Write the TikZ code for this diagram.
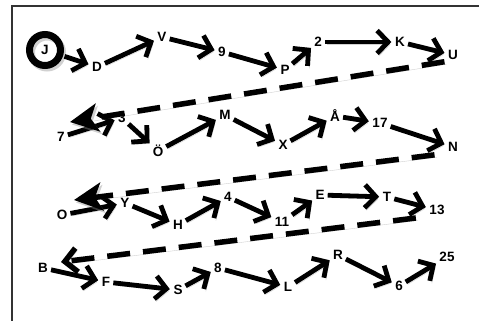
\documentclass[tikz,border=0pt]{standalone}
\usepackage{fontspec}
\setmainfont{Liberation Sans}
\usetikzlibrary{arrows.meta,calc}
\begin{document}
\begin{tikzpicture}[x=1pt,y=-1pt,
  lbl/.style={font=\bfseries\fontsize{13.5}{15}\selectfont, inner sep=1.5pt},
  shd/.style={preaction={draw=black!45, opacity=0.4, transform canvas={shift={(2pt,-2.5pt)}}}},
  arr/.style={line width=4.8pt, -{Straight Barb[length=11pt,width=23pt]}, shorten <=1.5pt, shorten >=2pt, shd},
  dsh/.style={line width=5.5pt, dash pattern=on 23pt off 13pt, shd},
  bighead/.style={-{Stealth[length=28pt,width=28pt,inset=7pt]}},
  barbhead/.style={-{Straight Barb[length=12pt,width=24pt]}}]
\useasboundingbox[fill=white] (0,0) rectangle (479,321);
\draw[line width=2pt, black!80] (12,321) -- (12,6) -- (479,6);
% row 1
\node[lbl, circle, draw, line width=7pt, minimum size=31pt, inner sep=0pt, shd] (J) at (45,50) {J};
\node[lbl] (D) at (97,67) {D};
\node[lbl] (V) at (162,37) {V};
\node[lbl] (n9) at (222,52) {9};
\node[lbl] (P) at (285,70) {P};
\node[lbl] (n2) at (318,42) {2};
\node[lbl] (K) at (400,42) {K};
\node[lbl] (U) at (453,55) {U};
% row 2
\node[lbl] (n7) at (61,137) {7};
\node[lbl] (n3) at (122,118) {3};
\node[lbl] (Oe) at (158,151) {Ö};
\node[lbl] (M) at (225,115) {M};
\node[lbl] (X) at (283,145) {X};
\node[lbl] (Aa) at (335,116) {Å};
\node[lbl] (n17) at (380,123) {17};
\node[lbl] (N) at (453,147) {N};
% row 3
\node[lbl] (O) at (62,215) {O};
\node[lbl] (Y) at (125,203) {Y};
\node[lbl] (H) at (178,225) {H};
\node[lbl] (n4) at (228,197) {4};
\node[lbl] (n11) at (282,222) {11};
\node[lbl] (E) at (320,195) {E};
\node[lbl] (T) at (387,197) {T};
\node[lbl] (n13) at (437,210) {13};
% row 4
\node[lbl] (B) at (43,268) {B};
\node[lbl] (F) at (106,282) {F};
\node[lbl] (S) at (178,290) {S};
\node[lbl] (n8) at (218,268) {8};
\node[lbl] (L) at (288,287) {L};
\node[lbl] (R) at (338,255) {R};
\node[lbl] (n6) at (399,286) {6};
\node[lbl] (n25) at (447,257) {25};
% solid arrows
\draw[arr] (J) -- (D);
\draw[arr] (D) -- (V);
\draw[arr] (V) -- (n9);
\draw[arr] (n9) -- (P);
\draw[arr] (P) -- (n2);
\draw[arr] (n2) -- (K);
\draw[arr] (K) -- (U);
\draw[arr] (n7) -- (n3);
\draw[arr] (n3) -- (Oe);
\draw[arr] (Oe) -- (M);
\draw[arr] (M) -- (X);
\draw[arr] (X) -- (Aa);
\draw[arr] (Aa) -- (n17);
\draw[arr] (n17) -- (N);
\draw[arr] (O) -- (Y);
\draw[arr] (Y) -- (H);
\draw[arr] (H) -- (n4);
\draw[arr] (n4) -- (n11);
\draw[arr] (n11) -- (E);
\draw[arr] (E) -- (T);
\draw[arr] (T) -- (n13);
\draw[arr] (B) -- (F);
\draw[arr] (F) -- (S);
\draw[arr] (S) -- (n8);
\draw[arr] (n8) -- (L);
\draw[arr] (L) -- (R);
\draw[arr] (R) -- (n6);
\draw[arr] (n6) -- (n25);
% dashed return arrows
\coordinate (t7) at (70,122);
\coordinate (tO) at (74,200);
\coordinate (tB) at (61,262);
\draw[dsh, bighead, shorten <=2pt] (U.south west) -- (t7);
\draw[dsh, bighead, shorten <=12pt] (N.south west) -- (tO);
\draw[dsh, barbhead, shorten <=12pt] (n13.south west) -- (tB);
\end{tikzpicture}
\end{document}
